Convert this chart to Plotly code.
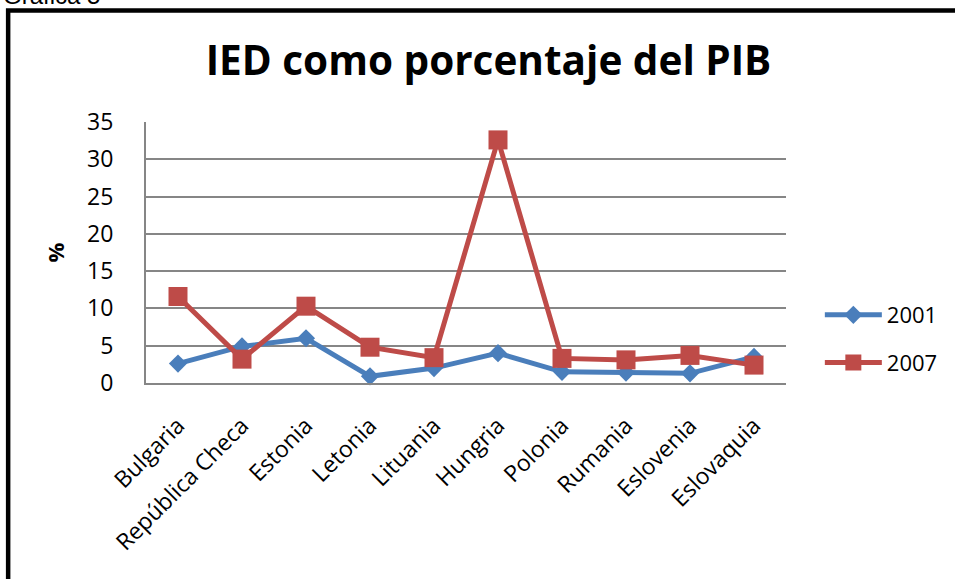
import plotly.graph_objects as go

categories = ["Bulgaria", "República Checa", "Estonia", "Letonia", "Lituania",
              "Hungria", "Polonia", "Rumania", "Eslovenia", "Eslovaquia"]
values_2001 = [2.6, 4.9, 6.0, 0.9, 2.0, 4.0, 1.5, 1.4, 1.3, 3.5]
values_2007 = [11.6, 3.2, 10.3, 4.8, 3.4, 32.6, 3.3, 3.1, 3.7, 2.4]
y_ticks = [0, 5, 10, 15, 20, 25, 30, 35]

W, H = 955, 579
L, R, T, B = 146, 789, 122, 383  # plot area in pixels

def px_x(p):
    return (p - L) / (R - L)

def px_y(p):
    return (B - p) / (B - T)

FONT = "Open Sans"
BLUE = "#4A7EBB"
RED = "#BE4B48"

fig = go.Figure()
fig.add_trace(go.Scatter(
    x=categories, y=values_2001, name="2001", mode="lines+markers",
    line=dict(color=BLUE, width=5),
    marker=dict(symbol="diamond", size=14, color=BLUE),
    cliponaxis=False, legendgroup="a"))
fig.add_trace(go.Scatter(
    x=categories, y=values_2007, name="2007", mode="lines+markers",
    line=dict(color=RED, width=5),
    marker=dict(symbol="square", size=19, color=RED),
    cliponaxis=False, legendgroup="b"))

fig.update_layout(
    width=W, height=H,
    margin=dict(l=L, r=W - R, t=T, b=H - B, pad=0),
    paper_bgcolor="white", plot_bgcolor="white",
    font=dict(family=FONT, color="black", size=22),
    title=dict(text="<b>IED como porcentaje del PIB</b>",
               font=dict(family=FONT, size=40.5, color="black"),
               x=488.5 / W, xanchor="center", xref="container",
               y=1 - 61.0 / H, yanchor="middle", yref="container"),
    showlegend=True,
    legend=dict(x=px_x(823), xanchor="left", y=px_y(339), yanchor="middle",
                font=dict(family=FONT, size=22, color="black"),
                bgcolor="rgba(0,0,0,0)", itemwidth=57,
                tracegroupgap=16, traceorder="grouped"),
    xaxis=dict(
        type="category", tickangle=-45, showgrid=False,
        showline=True, linecolor="#868686", linewidth=2,
        ticks="", tickfont=dict(family=FONT, size=23, color="black"),
        ticklabelstandoff=18, range=[-0.5, 9.5]),
    yaxis=dict(
        range=[0, 35], tickvals=y_ticks, showgrid=True,
        gridcolor="#868686", gridwidth=1.5,
        showline=True, linecolor="#868686", linewidth=2,
        zeroline=False, ticks="",
        tickfont=dict(family=FONT, size=23, color="black"),
        ticklabelstandoff=26,
        title=dict(text="<b>%</b>", font=dict(family=FONT, size=22, color="black"),
                   standoff=16)),
    shapes=[dict(type="rect", xref="paper", yref="paper",
                 x0=px_x(7.5), x1=px_x(990), y0=px_y(10.5), y1=px_y(620),
                 line=dict(color="black", width=4.5), fillcolor="rgba(0,0,0,0)",
                 layer="above")],
    annotations=[dict(text="Gráfica 5", xref="paper", yref="paper",
                      x=px_x(0), xanchor="left", y=px_y(11), yanchor="bottom",
                      showarrow=False,
                      font=dict(family="Liberation Sans", size=24, color="black"))],
)

fig.write_html("out.html", config={"displayModeBar": False},
               post_script="document.body.style.margin='0';")
